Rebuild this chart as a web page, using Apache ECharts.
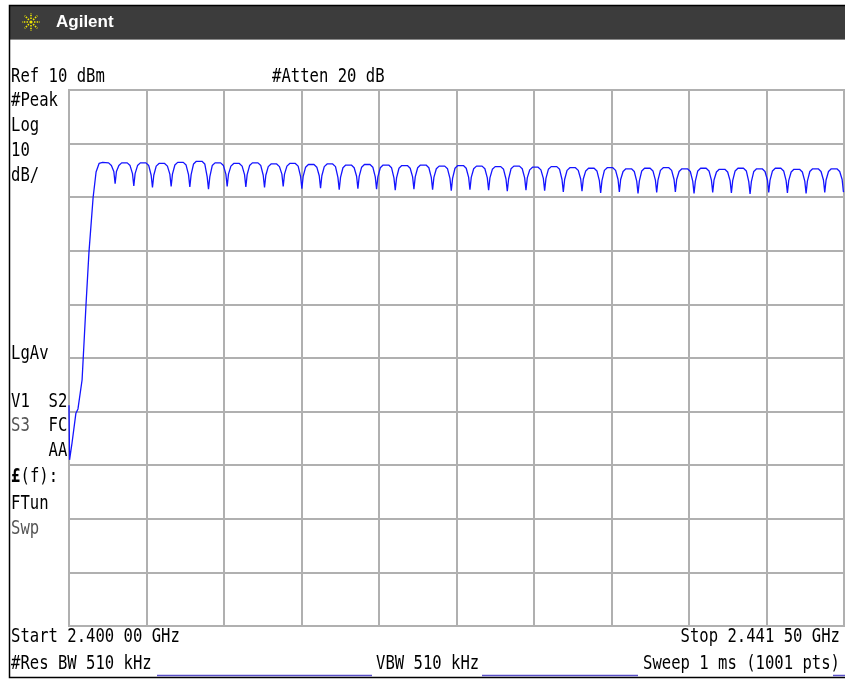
<!DOCTYPE html>
<html>
<head>
<meta charset="utf-8">
<script src="https://cdn.jsdelivr.net/npm/echarts@6/dist/echarts.min.js"></script>
<style>
html,body{margin:0;padding:0;background:#fff;}
#c{width:845px;height:679px;}
</style>
</head>
<body>
<div id="c"></div>
<script>
// ---- data (frequency offset from start in MHz, level in dBm) ----
var startLabel = 'Start 2.400 00 GHz';
var stopLabel = 'Stop 2.441 50 GHz';
var spanMHz = 41.5;
var refDbm = 10;
var dbPerDiv = 10;
var leftLabels = ['#Peak', 'Log', '10', 'dB/'];
var statusLabels = ['LgAv', 'V1  S2', '    FC', '    AA'];
var greyLabels = ['S3', 'Swp'];
var funcLabels = ['FTun'];
var topLabels = ['Ref 10 dBm', '#Atten 20 dB'];
var bottomLabels = ['#Res BW 510 kHz', 'VBW 510 kHz', 'Sweep 1 ms (1001 pts)'];

var riseTrace = [
  [0,-48.8],[0.03,-59.0],[0.16,-55.9],[0.37,-50.3],[0.48,-49.5],[0.70,-44.1],
  [0.91,-30.1],[1.07,-20.2],[1.29,-10.1],[1.45,-5.3],[1.61,-3.7],[1.80,-3.5],
  [2.12,-3.6],[2.27,-4.1],[2.40,-5.2]
];
var rippleTrace = [
  [2.47,-7.5],[2.54,-5.2],[2.67,-4.1],[2.82,-3.6],[3.12,-3.6],[3.27,-4.1],[3.40,-5.6],
  [3.47,-7.9],[3.54,-5.6],[3.67,-4.1],[3.82,-3.6],[4.12,-3.6],[4.27,-4.1],[4.40,-5.9],
  [4.47,-8.2],[4.54,-5.9],[4.67,-4.2],[4.82,-3.7],[5.12,-3.7],[5.27,-4.2],[5.40,-5.7],
  [5.47,-8.0],[5.54,-5.7],[5.67,-4.0],[5.82,-3.5],[6.12,-3.5],[6.27,-4.0],[6.40,-5.8],
  [6.47,-8.1],[6.54,-5.8],[6.67,-3.8],[6.82,-3.3],[7.12,-3.3],[7.27,-3.8],[7.40,-6.2],
  [7.47,-8.5],[7.54,-6.2],[7.67,-4.1],[7.82,-3.6],[8.12,-3.6],[8.27,-4.1],[8.40,-5.7],
  [8.47,-8.0],[8.54,-5.7],[8.67,-4.2],[8.82,-3.7],[9.12,-3.7],[9.27,-4.2],[9.40,-5.8],
  [9.47,-8.1],[9.54,-5.8],[9.67,-4.1],[9.82,-3.6],[10.12,-3.6],[10.27,-4.1],[10.40,-5.9],
  [10.47,-8.2],[10.54,-5.9],[10.67,-4.3],[10.82,-3.8],[11.12,-3.8],[11.27,-4.3],[11.40,-5.7],
  [11.47,-8.0],[11.54,-5.7],[11.67,-4.2],[11.82,-3.7],[12.12,-3.7],[12.27,-4.2],[12.40,-6.1],
  [12.47,-8.4],[12.54,-6.1],[12.67,-4.4],[12.82,-3.9],[13.12,-3.9],[13.27,-4.4],[13.40,-6.0],
  [13.47,-8.3],[13.54,-6.0],[13.67,-4.3],[13.82,-3.8],[14.12,-3.8],[14.27,-4.3],[14.40,-6.3],
  [14.47,-8.6],[14.54,-6.3],[14.67,-4.5],[14.82,-4.0],[15.12,-4.0],[15.27,-4.5],[15.40,-6.1],
  [15.47,-8.4],[15.54,-6.1],[15.67,-4.4],[15.82,-3.9],[16.12,-3.9],[16.27,-4.4],[16.40,-6.2],
  [16.47,-8.5],[16.54,-6.2],[16.67,-4.5],[16.82,-4.0],[17.12,-4.0],[17.27,-4.5],[17.40,-6.4],
  [17.47,-8.7],[17.54,-6.4],[17.67,-4.6],[17.82,-4.1],[18.12,-4.1],[18.27,-4.6],[18.40,-6.2],
  [18.47,-8.5],[18.54,-6.2],[18.67,-4.5],[18.82,-4.0],[19.12,-4.0],[19.27,-4.5],[19.40,-6.3],
  [19.47,-8.6],[19.54,-6.3],[19.67,-4.7],[19.82,-4.2],[20.12,-4.2],[20.27,-4.7],[20.40,-6.5],
  [20.47,-8.8],[20.54,-6.5],[20.67,-4.6],[20.82,-4.1],[21.12,-4.1],[21.27,-4.6],[21.40,-6.3],
  [21.47,-8.6],[21.54,-6.3],[21.67,-4.7],[21.82,-4.2],[22.12,-4.2],[22.27,-4.7],[22.40,-6.4],
  [22.47,-8.7],[22.54,-6.4],[22.67,-4.8],[22.82,-4.3],[23.12,-4.3],[23.27,-4.8],[23.40,-6.6],
  [23.47,-8.9],[23.54,-6.6],[23.67,-4.7],[23.82,-4.2],[24.12,-4.2],[24.27,-4.7],[24.40,-6.4],
  [24.47,-8.7],[24.54,-6.4],[24.67,-4.9],[24.82,-4.4],[25.12,-4.4],[25.27,-4.9],[25.40,-6.5],
  [25.47,-8.8],[25.54,-6.5],[25.67,-4.8],[25.82,-4.3],[26.12,-4.3],[26.27,-4.8],[26.40,-6.7],
  [26.47,-9.0],[26.54,-6.7],[26.67,-5.0],[26.82,-4.5],[27.12,-4.5],[27.27,-5.0],[27.40,-6.6],
  [27.47,-8.9],[27.54,-6.6],[27.67,-5.1],[27.82,-4.6],[28.12,-4.6],[28.27,-5.1],[28.40,-6.9],
  [28.47,-9.2],[28.54,-6.9],[28.67,-5.0],[28.82,-4.5],[29.12,-4.5],[29.27,-5.0],[29.40,-6.7],
  [29.47,-9.0],[29.54,-6.7],[29.67,-5.2],[29.82,-4.7],[30.12,-4.7],[30.27,-5.2],[30.40,-7.0],
  [30.47,-9.3],[30.54,-7.0],[30.67,-5.1],[30.82,-4.6],[31.12,-4.6],[31.27,-5.1],[31.40,-6.8],
  [31.47,-9.1],[31.54,-6.8],[31.67,-5.0],[31.82,-4.5],[32.12,-4.5],[32.27,-5.0],[32.40,-6.7],
  [32.47,-9.0],[32.54,-6.7],[32.67,-5.2],[32.82,-4.7],[33.12,-4.7],[33.27,-5.2],[33.40,-7.0],
  [33.47,-9.3],[33.54,-7.0],[33.67,-5.1],[33.82,-4.6],[34.12,-4.6],[34.27,-5.1],[34.40,-6.8],
  [34.47,-9.1],[34.54,-6.8],[34.67,-5.3],[34.82,-4.8],[35.12,-4.8],[35.27,-5.3],[35.40,-6.9],
  [35.47,-9.2],[35.54,-6.9],[35.67,-5.1],[35.82,-4.6],[36.12,-4.6],[36.27,-5.1],[36.40,-7.1],
  [36.47,-9.4],[36.54,-7.1],[36.67,-5.2],[36.82,-4.7],[37.12,-4.7],[37.27,-5.2],[37.40,-6.8],
  [37.47,-9.1],[37.54,-6.8],[37.67,-5.1],[37.82,-4.6],[38.12,-4.6],[38.27,-5.1],[38.40,-6.9],
  [38.47,-9.2],[38.54,-6.9],[38.67,-5.3],[38.82,-4.8],[39.12,-4.8],[39.27,-5.3],[39.40,-7.0],
  [39.47,-9.3],[39.54,-7.0],[39.67,-5.2],[39.82,-4.7],[40.12,-4.7],[40.27,-5.2],[40.40,-6.8],
  [40.47,-9.1],[40.54,-6.8],[40.67,-5.2],[40.82,-4.7],[41.12,-4.7],[41.27,-5.2],[41.40,-6.7],
  [41.47,-9.0],[41.50,-8.9]
];

// ---- chart ----
var chart = echarts.init(document.getElementById('c'), null, {renderer:'canvas'});
var GRID = {left:69, top:90, width:775, height:536};
var MONO = 'DejaVu Sans Mono';
var FS = 19, SX = 0.82;

function txt(s, x, base, opt) {
  opt = opt || {};
  return {
    type:'text', x:x, y:base - 6, scaleX:SX, z:10,
    style:{text:s, fill:opt.fill || '#000', font:(opt.bold ? 'bold ' : '') + FS + 'px "' + MONO + '"',
           align:opt.align || 'left', verticalAlign:'middle'}
  };
}

var graphics = [];
// header bar
graphics.push({type:'rect', shape:{x:9, y:5, width:840, height:34}, style:{fill:'#3c3c3c'}, z:1});
graphics.push({type:'line', shape:{x1:9, y1:39.5, x2:845, y2:39.5}, style:{stroke:'#8a8a8a', lineWidth:1}, z:2});
// sunburst icon
var cx = 31, cy = 22;
for (var i = 0; i < 8; i++) {
  var a = i * Math.PI / 4;
  graphics.push({type:'line', shape:{x1:cx + 3*Math.cos(a), y1:cy + 3*Math.sin(a), x2:cx + 9*Math.cos(a), y2:cy + 9*Math.sin(a)},
    style:{stroke:'#f0e800', lineWidth:1.6, lineDash:[1.5,1.2]}, z:3});
}
graphics.push({type:'circle', shape:{cx:cx, cy:cy, r:1.6}, style:{fill:'#f0e800'}, z:3});
graphics.push({type:'text', x:56, y:22, z:3, style:{text:'Agilent', fill:'#ffffff', font:'bold 17px "Liberation Sans", Arial, sans-serif', align:'left', verticalAlign:'middle'}});
// outer frame
graphics.push({type:'rect', shape:{x:9.5, y:5.5, width:840, height:672}, style:{fill:null, stroke:'#000', lineWidth:1.5}, z:4});

// top labels
graphics.push(txt(topLabels[0], 11, 83));
graphics.push(txt(topLabels[1], 272, 83));
// left labels
var lb = [107, 132, 157, 182];
leftLabels.forEach(function(s, k){ graphics.push(txt(s, 11, lb[k])); });
var sb = [360, 408, 432, 457];
statusLabels.forEach(function(s, k){ graphics.push(txt(s, 11, sb[k])); });
graphics.push(txt(greyLabels[0], 11, 432, {fill:'#555'}));
graphics.push(txt('\u00a3', 11, 483, {bold:true}));
graphics.push(txt('(f):', 20.5, 483));
graphics.push(txt(funcLabels[0], 11, 510));
graphics.push(txt(greyLabels[1], 11, 535, {fill:'#555'}));
// bottom labels
graphics.push(txt(startLabel, 11, 643));
graphics.push(txt(stopLabel, 840, 643, {align:'right'}));
graphics.push(txt(bottomLabels[0], 11, 670));
graphics.push(txt(bottomLabels[1], 376, 670));
graphics.push(txt(bottomLabels[2], 840, 670, {align:'right'}));
// underline bars
[[157,372],[482,638],[833,845]].forEach(function(p){
  graphics.push({type:'line', shape:{x1:p[0], y1:675.5, x2:p[1], y2:675.5}, style:{stroke:'#5a50c8', lineWidth:1.5}, z:5});
});

chart.setOption({
  animation:false,
  backgroundColor:'#ffffff',
  grid:{left:GRID.left, top:GRID.top, width:GRID.width, height:GRID.height, show:true, borderColor:'#b0b0b0', borderWidth:2, backgroundColor:'transparent'},
  xAxis:{type:'value', min:0, max:spanMHz, interval:spanMHz/10,
    axisLine:{show:false}, axisTick:{show:false}, axisLabel:{show:false},
    splitLine:{show:true, lineStyle:{color:'#b0b0b0', width:2}}},
  yAxis:{type:'value', min:refDbm - 10*dbPerDiv, max:refDbm, interval:dbPerDiv,
    axisLine:{show:false}, axisTick:{show:false}, axisLabel:{show:false},
    splitLine:{show:true, lineStyle:{color:'#b0b0b0', width:2}}},
  series:[{
    type:'line', data:riseTrace.concat(rippleTrace), showSymbol:false, symbol:'none',
    smooth:false,
    lineStyle:{color:'#1414ff', width:1.3}, z:3, clip:true
  }],
  graphic:graphics
});
</script>
</body>
</html>
